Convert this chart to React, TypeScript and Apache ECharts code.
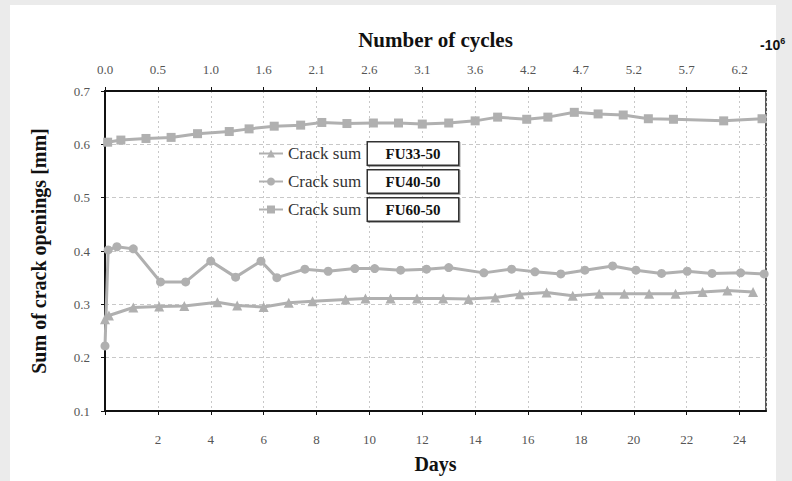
import React, { useEffect, useRef } from "react";
import * as echarts from "echarts";

const days33 = [0, 0.15, 1.07, 2.05, 3.0, 4.25, 5.0, 6.0, 6.95, 7.85, 9.1, 9.85, 10.8, 11.8, 12.79, 13.75, 14.76, 15.69, 16.7, 17.69, 18.69, 19.64, 20.58, 21.58, 22.6, 23.54, 24.51];
const vals33 = [0.272, 0.279, 0.294, 0.296, 0.297, 0.304, 0.298, 0.295, 0.303, 0.306, 0.309, 0.311, 0.311, 0.311, 0.311, 0.31, 0.313, 0.319, 0.322, 0.316, 0.32, 0.32, 0.32, 0.32, 0.323, 0.326, 0.323];

const days40 = [0, 0.12, 0.45, 1.07, 2.1, 3.05, 4.0, 4.94, 5.9, 6.5, 7.56, 8.44, 9.45, 10.2, 11.18, 12.16, 13.0, 14.33, 15.38, 16.26, 17.24, 18.15, 19.2, 20.08, 21.05, 22.02, 22.96, 24.04, 24.93];
const vals40 = [0.222, 0.402, 0.408, 0.404, 0.342, 0.342, 0.381, 0.351, 0.381, 0.35, 0.366, 0.362, 0.367, 0.367, 0.364, 0.366, 0.369, 0.359, 0.366, 0.361, 0.357, 0.364, 0.372, 0.364, 0.358, 0.362, 0.358, 0.359, 0.357];

const days60 = [0.1, 0.6, 1.55, 2.5, 3.5, 4.7, 5.45, 6.4, 7.4, 8.2, 9.15, 10.15, 11.1, 12.0, 13.0, 14.0, 14.85, 15.95, 16.75, 17.75, 18.65, 19.6, 20.55, 21.5, 23.4, 24.85];
const vals60 = [0.604, 0.608, 0.611, 0.613, 0.62, 0.624, 0.629, 0.634, 0.636, 0.641, 0.639, 0.64, 0.64, 0.638, 0.64, 0.644, 0.651, 0.647, 0.651, 0.66, 0.657, 0.655, 0.648, 0.647, 0.644, 0.648];

const seriesNames = ["FU33-50", "FU40-50", "FU60-50"];
const cycleTickLabels = ["0.0", "0.5", "1.0", "1.6", "2.1", "2.6", "3.1", "3.6", "4.2", "4.7", "5.2", "5.7", "6.2"];

const zip = (xs: number[], ys: number[]) => xs.map((x, i) => [x, ys[i]]);

const SERIF = "'Liberation Serif', 'Times New Roman', serif";
const LINE_COLOR = "#b0b0b0";

export default function App() {
  const ref = useRef<HTMLDivElement>(null);
  useEffect(() => {
    if (!ref.current) return;
    const chart = echarts.init(ref.current, undefined, { renderer: "svg" });
    const mk = (name: string, data: number[][], symbol: string, size: number) => ({
      name,
      type: "line",
      data,
      symbol,
      symbolSize: size,
      showSymbol: true,
      lineStyle: { color: LINE_COLOR, width: 3 },
      itemStyle: { color: LINE_COLOR },
      z: 3,
    });
    const titleStyle = { fontFamily: SERIF, fontSize: 20, fontWeight: "bold", color: "#111" };
    const tickStyle = { fontFamily: SERIF, fontSize: 13, color: "#555" };
    chart.setOption({
      animation: false,
      grid: {
        left: 105,
        right: 26,
        top: 91,
        bottom: 70,
        show: true,
        borderColor: "#222",
        borderWidth: 1.5,
      },
      legend: {
        orient: "vertical",
        left: 253,
        top: 136,
        itemGap: 3,
        itemWidth: 24,
        itemHeight: 10,
        data: seriesNames,
        formatter: (n: string) => `{a|Crack sum}{b|${n}}`,
        textStyle: {
          rich: {
            a: { fontFamily: SERIF, fontSize: 17, color: "#333", width: 80 },
            b: {
              fontFamily: SERIF,
              fontSize: 15,
              fontWeight: "bold",
              color: "#111",
              width: 78,
              height: 16,
              lineHeight: 16,
              align: "center",
              padding: [3, 6],
              borderColor: "#333",
              borderWidth: 1.5,
              backgroundColor: "#fff",
              shadowColor: "rgba(0,0,0,0.35)",
              shadowOffsetX: 1,
              shadowOffsetY: 1,
              shadowBlur: 1,
            },
          },
        },
      },
      xAxis: [
        {
          type: "value",
          position: "bottom",
          min: 0,
          max: 25,
          interval: 2,
          name: "Days",
          nameLocation: "middle",
          nameGap: 43,
          nameTextStyle: titleStyle,
          axisLine: { show: true, lineStyle: { color: "#111", width: 2 } },
          axisTick: { show: true, length: 4, lineStyle: { color: "#111" } },
          axisLabel: {
            ...tickStyle,
            margin: 22,
            showMaxLabel: false,
            formatter: (v: number) => (v === 0 || v > 24 ? "" : String(v)),
          },
          splitLine: { show: true, lineStyle: { color: "#c8c8c8", type: [2, 3], width: 1 } },
        },
        {
          type: "value",
          position: "top",
          min: 0,
          max: 25,
          interval: 2,
          name: "Number of cycles",
          nameLocation: "middle",
          nameGap: 41,
          nameTextStyle: { ...titleStyle, fontSize: 21 },
          axisLine: { show: true, lineStyle: { color: "#111", width: 2 } },
          axisTick: { show: true, length: 4, lineStyle: { color: "#111" } },
          axisLabel: {
            ...tickStyle,
            margin: 15,
            showMaxLabel: false,
            formatter: (v: number) => {
              const i = Math.round(v / 2);
              return Math.abs(v - i * 2) < 1e-6 && i < cycleTickLabels.length ? cycleTickLabels[i] : "";
            },
          },
          splitLine: { show: false },
        },
      ],
      yAxis: {
        type: "value",
        min: 0.1,
        max: 0.7,
        interval: 0.1,
        name: "Sum of crack openings [mm]",
        nameLocation: "middle",
        nameGap: 56,
        nameTextStyle: titleStyle,
        axisLine: { show: true, lineStyle: { color: "#111", width: 2 } },
        axisTick: { show: true, length: 4, lineStyle: { color: "#111" } },
        axisLabel: {
          ...tickStyle,
          margin: 15,
          formatter: (v: number) => v.toFixed(1),
        },
        splitLine: { show: true, lineStyle: { color: "#c8c8c8", type: [4, 3], width: 1 } },
      },
      graphic: [
        {
          type: "text",
          left: 760,
          top: 36,
          style: {
            text: "{m|-10}{s|6}",
            rich: {
              m: { fontFamily: "'Liberation Sans', Arial, sans-serif", fontSize: 14, fontWeight: "bold", fill: "#111", verticalAlign: "bottom" },
              s: { fontFamily: "'Liberation Sans', Arial, sans-serif", fontSize: 9, fontWeight: "bold", fill: "#111", verticalAlign: "top", padding: [0, 0, 7, 0] },
            },
          },
        },
      ],
      series: [
        mk(seriesNames[0], zip(days33, vals33), "triangle", 10),
        mk(seriesNames[1], zip(days40, vals40), "circle", 9),
        mk(seriesNames[2], zip(days60, vals60), "rect", 9),
      ],
    });
    return () => chart.dispose();
  }, []);
  return (
    <div style={{ position: "fixed", left: 0, top: 0, width: 792, height: 481, background: "#ebebeb" }}>
      <div style={{ position: "absolute", left: 10, top: 5, width: 766, height: 476, background: "#fff" }} />
      <div ref={ref} style={{ position: "absolute", left: 0, top: 0, width: 792, height: 481 }} />
    </div>
  );
}
